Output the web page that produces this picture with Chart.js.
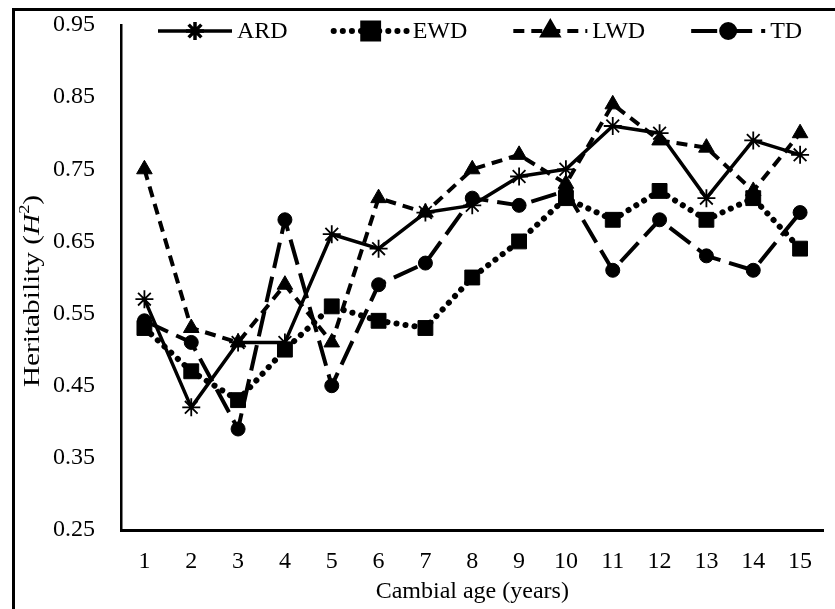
<!DOCTYPE html>
<html>
<head>
<meta charset="utf-8">
<script src="https://cdn.jsdelivr.net/npm/chart.js@4.4.0/dist/chart.umd.min.js"></script>
<style>
html,body{margin:0;padding:0;background:#fff;}
#wrap{width:835px;height:609px;position:relative;}
</style>
</head>
<body>
<div id="wrap"><canvas id="c" width="835" height="609"></canvas></div>
<script>
const categories = ['1','2','3','4','5','6','7','8','9','10','11','12','13','14','15'];
const seriesNames = ['ARD','EWD','LWD','TD'];
const ARD = [0.57,0.42,0.51,0.51,0.66,0.64,0.69,0.70,0.74,0.75,0.81,0.80,0.71,0.79,0.77];
const EWD = [0.53,0.47,0.43,0.50,0.56,0.54,0.53,0.60,0.65,0.71,0.68,0.72,0.68,0.71,0.64];
const LWD = [0.75,0.53,0.51,0.59,0.51,0.71,0.69,0.75,0.77,0.73,0.84,0.79,0.78,0.72,0.80];
const TD  = [0.54,0.51,0.39,0.68,0.45,0.59,0.62,0.71,0.70,0.72,0.61,0.68,0.63,0.61,0.69];
const yTicks = [0.25,0.35,0.45,0.55,0.65,0.75,0.85,0.95];
const xTitle = 'Cambial age (years)';

const FONT = "'Liberation Serif', 'Times New Roman', serif";
Chart.defaults.color = '#000';
Chart.defaults.font.family = FONT;

const styles = [
  {borderWidth:3.5, borderDash:[], cap:'butt', pointStyle:'star', radius:9, pbw:1.8},
  {borderWidth:6, borderDash:[0.1,9], cap:'round', pointStyle:'rect', radius:10.5, pbw:1},
  {borderWidth:4, borderDash:[11,7], cap:'butt', pointStyle:'triangle', radius:9, pbw:1},
  {borderWidth:4, borderDash:[26,9], cap:'butt', pointStyle:'circle', radius:7, pbw:1}
];
const seriesData = [ARD, EWD, LWD, TD];

const datasets = seriesNames.map((n,i)=>({
  label:n,
  data:seriesData[i],
  borderColor:'#000',
  backgroundColor:'#000',
  borderWidth:styles[i].borderWidth,
  borderDash:styles[i].borderDash,
  borderCapStyle:styles[i].cap,
  borderJoinStyle:'round',
  pointStyle:styles[i].pointStyle,
  pointRadius:styles[i].radius,
  pointHoverRadius:styles[i].radius,
  pointBorderWidth:styles[i].pbw,
  pointBorderColor:'#000',
  pointBackgroundColor:'#000',
  tension:0,
  fill:false
}));

function drawMarker(ctx, style, radius, bw, x, y){
  if (Chart.helpers && Chart.helpers.drawPoint){
    Chart.helpers.drawPoint(ctx, {pointStyle:style, radius:radius, borderWidth:bw, rotation:0}, x, y);
    return;
  }
  ctx.beginPath();
  ctx.arc(x,y,radius,0,Math.PI*2);
  ctx.fill();
}

const framePlugin = {
  id:'framePlugin',
  beforeDraw(chart){
    const ctx = chart.ctx;
    ctx.save();
    ctx.fillStyle = '#fff';
    ctx.fillRect(0,0,chart.width,chart.height);
    ctx.strokeStyle = '#000';
    ctx.lineWidth = 3;
    ctx.beginPath();
    ctx.moveTo(13.5, chart.height+5);
    ctx.lineTo(13.5, 9.5);
    ctx.lineTo(chart.width+5, 9.5);
    ctx.stroke();
    ctx.restore();
  },
  afterDraw(chart){
    const ctx = chart.ctx;
    ctx.save();
    // legend
    let x = 158;
    const y = 31;
    const sampleW = 74;
    ctx.font = '24px ' + FONT;
    ctx.textBaseline = 'middle';
    ctx.textAlign = 'left';
    chart.data.datasets.forEach((ds,i)=>{
      ctx.strokeStyle = '#000';
      ctx.fillStyle = '#000';
      ctx.lineWidth = ds.borderWidth;
      ctx.lineCap = ds.borderCapStyle;
      ctx.setLineDash(ds.borderDash);
      ctx.beginPath();
      ctx.moveTo(x, y);
      ctx.lineTo(x+sampleW, y);
      ctx.stroke();
      ctx.setLineDash([]);
      ctx.lineCap = 'butt';
      drawMarker(ctx, ds.pointStyle, ds.pointRadius, ds.pointBorderWidth, x+sampleW/2, y);
      ctx.fillStyle = '#000';
      ctx.font = '24px ' + FONT;
      const tx = x + sampleW + 5;
      ctx.fillText(ds.label, tx, y+1);
      x = tx + ctx.measureText(ds.label).width + 46;
    });
    // y title with italic H and superscript 2
    ctx.translate(33, 291);
    ctx.rotate(-Math.PI/2);
    ctx.scale(1.22, 1);
    const parts = [
      {t:'Heritability (', f:'24px ' + FONT, dy:0},
      {t:'H', f:'italic 24px ' + FONT, dy:0},
      {t:'2', f:'15px ' + FONT, dy:-8},
      {t:')', f:'24px ' + FONT, dy:0}
    ];
    let total = 0;
    parts.forEach(p=>{ctx.font=p.f; p.w=ctx.measureText(p.t).width; total+=p.w;});
    let px = -total/2;
    ctx.textBaseline = 'middle';
    ctx.fillStyle = '#000';
    parts.forEach(p=>{ctx.font=p.f; ctx.fillText(p.t, px, p.dy); px+=p.w;});
    ctx.restore();
  }
};

new Chart(document.getElementById('c'), {
  type:'line',
  data:{labels:categories, datasets:datasets},
  options:{
    responsive:false,
    animation:false,
    devicePixelRatio:1,
    layout:{padding:{left:0,right:5,top:25,bottom:0}},
    plugins:{legend:{display:false}, tooltip:{enabled:false}, title:{display:false}},
    scales:{
      x:{
        type:'category',
        offset:true,
        grid:{display:false, drawTicks:false},
        border:{display:true, color:'#000', width:3},
        ticks:{font:{size:24, family:FONT}, color:'#000', padding:17, maxRotation:0, autoSkip:false},
        title:{display:true, text:xTitle, font:{size:24, family:FONT}, color:'#000', padding:{top:0,bottom:3}},
        afterFit(s){ s.height = 79; s.paddingLeft = 0; s.paddingRight = 0; }
      },
      y:{
        min:0.25, max:0.95,
        grid:{display:false, drawTicks:false},
        border:{display:true, color:'#000', width:2.5},
        ticks:{font:{size:24, family:FONT}, color:'#000', padding:26, callback:(v)=>Number(v).toFixed(2)},
        afterBuildTicks(s){ s.ticks = yTicks.map(v=>({value:v})); },
        afterFit(s){ s.width = 121; s.paddingTop = 0; s.paddingBottom = 0; }
      }
    }
  },
  plugins:[framePlugin]
});
</script>
</body>
</html>
